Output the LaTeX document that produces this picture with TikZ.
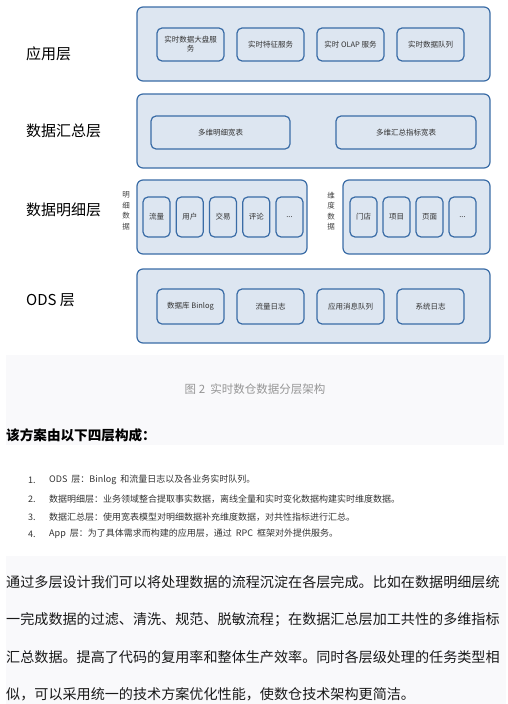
\documentclass[tikz,border=0pt]{standalone}
\usepackage{fontspec}
\setmainfont{Noto Sans CJK SC}
\usetikzlibrary{positioning,backgrounds}
\definecolor{layerfill}{RGB}{221,230,241}
\definecolor{layerline}{RGB}{58,108,166}
\definecolor{capgray}{RGB}{150,150,150}
\definecolor{bandgray}{RGB}{249,249,251}
\definecolor{bodytext}{RGB}{25,25,25}
\newcommand{\moreitems}{...}

\begin{document}
\begin{tikzpicture}[x=1pt, y=1pt,
  font=\fontsize{7.5}{9}\selectfont,
  lay/.style={draw=layerline, line width=1.2pt, fill=layerfill,
    rounded corners=6pt, minimum height=74pt, inner sep=0pt},
  itm/.style={draw=layerline, line width=1.2pt, fill=layerfill,
    rounded corners=5pt, inner sep=1pt, align=center, text=black!80},
  nm/.style={font=\fontsize{15}{18}\selectfont, anchor=west, inner sep=0pt},
  vt/.style={align=center, inner sep=0pt, text=black!75,
    font=\fontsize{7.5}{10.5}\selectfont},
  ln/.style={anchor=west, inner sep=0pt, text=bodytext},
  li/.style={ln, font=\fontsize{9}{11}\selectfont, text=black!80},
  pg/.style={ln, font=\fontsize{14.1}{16}\selectfont},
]
\useasboundingbox (0,0) rectangle (508,-704);
% light bands behind the caption and the paragraph
\fill[bandgray] (6,-355) rectangle (504,-445);
\fill[bandgray] (6,-556) rectangle (506,-704);

% layers
\node[lay, minimum width=353pt] (app) at (313.5,-44) {};
\node[lay, minimum width=353pt] (dws) at (313.5,-131) {};
\node[lay, minimum width=170pt] (dwdf) at (222,-217) {};
\node[lay, minimum width=147pt] (dwdd) at (416.5,-217) {};
\node[lay, minimum width=353pt] (ods) at (313.5,-306) {};

\node[nm] (Napp) at (26,-54) {应用层};
\node[nm] (Ndws) at (26,-131) {数据汇总层};
\node[nm] (Ndwd) at (26,-209.5) {数据明细层};
\node[nm] (Nods) at (26,-300) {ODS 层};

% application services
\foreach \t [count=\i from 0] in {实时数据大盘服\\务, 实时特征服务,
    实时 OLAP 服务, 实时数据队列} {
  \node[itm, minimum width=67pt, minimum height=33pt]
    (A\i) at (190.5+80*\i,-44.5) {\t};
}

% summary tables
\node[itm, minimum width=139pt, minimum height=33pt] (S0) at (220.5,-132.5) {多维明细宽表};
\node[itm, minimum width=140pt, minimum height=33pt] (S1) at (406,-132.5) {多维汇总指标宽表};

% detail data
\node[vt] (Vf) at (126,-211) {明\\细\\数\\据};
\foreach \t [count=\i from 0] in {流量, 用户, 交易, 评论, \moreitems} {
  \node[itm, minimum width=27pt, minimum height=40pt]
    (F\i) at (156.5+33.25*\i,-217) {\t};
}
\node[vt] (Vd) at (331,-211) {维\\度\\数\\据};
\foreach \t [count=\i from 0] in {门店, 项目, 页面, \moreitems} {
  \node[itm, minimum width=27pt, minimum height=40pt]
    (D\i) at (363.5+33*\i,-217) {\t};
}

% ods sources
\foreach \t [count=\i from 0] in {数据库 Binlog, 流量日志, 应用消息队列, 系统日志} {
  \node[itm, minimum width=67pt, minimum height=35pt]
    (O\i) at (190.5+80*\i,-306.5) {\t};
}

% caption and text
\node[inner sep=0pt, text=capgray, font=\fontsize{11.5}{13}\selectfont]
  (cap) at (255,-389) {图 2\ \ 实时数仓数据分层架构};
\node[ln, font=\bfseries\fontsize{13.6}{16}\selectfont, text=black]
  (head) at (6,-435) {该方案由以下四层构成：};

\foreach \t/\y [count=\i] in {
    ODS\ \ 层：Binlog\ \ 和流量日志以及各业务实时队列。/480,
    数据明细层：业务领域整合提取事实数据，离线全量和实时变化数据构建实时维度数据。/499,
    数据汇总层：使用宽表模型对明细数据补充维度数据，对共性指标进行汇总。/517,
    App\ \ 层：为了具体需求而构建的应用层，通过\ \ RPC\ \ 框架对外提供服务。/534} {
  \node[li] (n\i) at (28,-\y) {\i.};
  \node[li] (l\i) at (49,-\y) {\t};
}

\foreach \t/\y [count=\i] in {
    通过多层设计我们可以将处理数据的流程沉淀在各层完成。比如在数据明细层统/582,
    一完成数据的过滤、清洗、规范、脱敏流程；在数据汇总层加工共性的多维指标/620,
    汇总数据。提高了代码的复用率和整体生产效率。同时各层级处理的任务类型相/657,
    似，可以采用统一的技术方案优化性能，使数仓技术架构更简洁。/694} {
  \node[pg] (p\i) at (6,-\y) {\t};
}
\end{tikzpicture}
\end{document}
